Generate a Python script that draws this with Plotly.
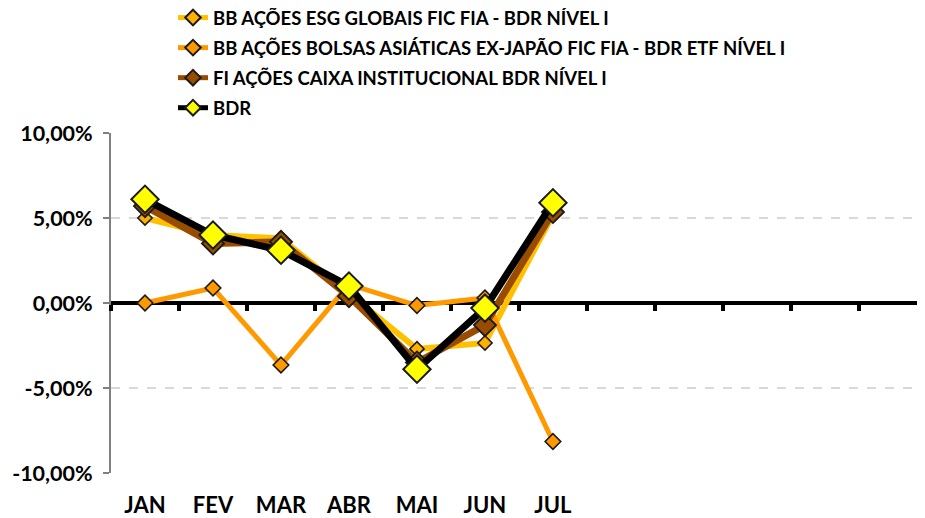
import plotly.graph_objects as go

months = ["JAN", "FEV", "MAR", "ABR", "MAI", "JUN", "JUL"]
ytick_vals = [-10, -5, 0, 5, 10]
ytick_text = ["-10,00%", "-5,00%", "0,00%", "5,00%", "10,00%"]

names = [
    "BB AÇÕES ESG GLOBAIS FIC FIA - BDR NÍVEL I",
    "BB AÇÕES BOLSAS ASIÁTICAS EX-JAPÃO FIC FIA - BDR ETF NÍVEL I",
    "FI AÇÕES CAIXA INSTITUCIONAL BDR NÍVEL I",
    "BDR",
]
esg = [5.0, 4.0, 3.8, 0.5, -2.7, -2.35, 5.2]
asia = [0.0, 0.88, -3.65, 1.1, -0.15, 0.3, -8.15]
caixa = [5.7, 3.5, 3.6, 0.4, -3.5, -1.3, 5.35]
bdr = [6.1, 4.0, 3.1, 1.0, -3.9, -0.3, 5.9]

FONT = "Lato, sans-serif"

x = list(range(len(months)))

styles = [
    dict(lc="#FFC000", lw=6, mc="#FFB000", ms=11, mo=1.6),
    dict(lc="#FF9900", lw=5, mc="#FF9900", ms=12, mo=1.6),
    dict(lc="#994C00", lw=7, mc="#994C00", ms=17, mo=1.8),
    dict(lc="#000000", lw=7, mc="#FFFF00", ms=21, mo=2),
]

fig = go.Figure()
for i, (nm, vals, st) in enumerate(zip(names, [esg, asia, caixa, bdr], styles)):
    fig.add_trace(go.Scatter(
        x=x, y=vals, name=nm, mode="lines+markers",
        line=dict(color=st["lc"], width=st["lw"]),
        marker=dict(symbol="diamond", size=st["ms"], color=st["mc"],
                    line=dict(color="#1a1a1a", width=st["mo"])),
        legendgroup=str(i),
    ))

# invisible trace to hold the zero-line axis
fig.add_trace(go.Scatter(x=[0], y=[0], xaxis="x2", mode="markers",
                         marker=dict(opacity=0), showlegend=False, hoverinfo="skip"))

xr = [-0.5, 11.59]
fig.update_layout(
    width=925, height=518,
    margin=dict(l=103, r=0, t=125, b=53, autoexpand=False),
    paper_bgcolor="white", plot_bgcolor="white",
    font=dict(family=FONT, color="#000000"),
    showlegend=True,
    legend=dict(
        x=0.0754, y=1.394, xanchor="left", yanchor="top",
        font=dict(family=FONT, size=18.5, color="#000000", weight="bold"),
        tracegroupgap=3, itemwidth=30, itemsizing="constant",
        bgcolor="rgba(0,0,0,0)",
    ),
    xaxis=dict(
        range=xr, tickmode="array", tickvals=x, ticktext=months,
        showgrid=False, zeroline=False, showline=False,
        ticks="outside", ticklen=13, tickcolor="rgba(0,0,0,0)",
        tickfont=dict(family=FONT, size=22, color="#000000", weight="bold"),
    ),
    xaxis2=dict(
        range=xr, overlaying="x", anchor="free", position=0.5,
        side="bottom", layer="below traces",
        showline=True, linecolor="#000000", linewidth=4,
        tickmode="array", tickvals=[k - 0.5 for k in range(13)],
        ticks="outside", ticklen=6, tickwidth=4, tickcolor="#000000",
        showticklabels=False, showgrid=False, zeroline=False,
    ),
    yaxis=dict(
        range=[-10, 10], tickmode="array", tickvals=ytick_vals, ticktext=ytick_text,
        showgrid=True, gridcolor="#D9D9D9", gridwidth=2, griddash="dash",
        zeroline=False, showline=True, linecolor="#808080", linewidth=2,
        ticks="outside", ticklen=6, tickcolor="#808080", tickwidth=2,
        ticklabelstandoff=6,
        tickfont=dict(family=FONT, size=21.5, color="#000000", weight="bold"),
        layer="below traces",
    ),
)

fig.write_html("out.html")
